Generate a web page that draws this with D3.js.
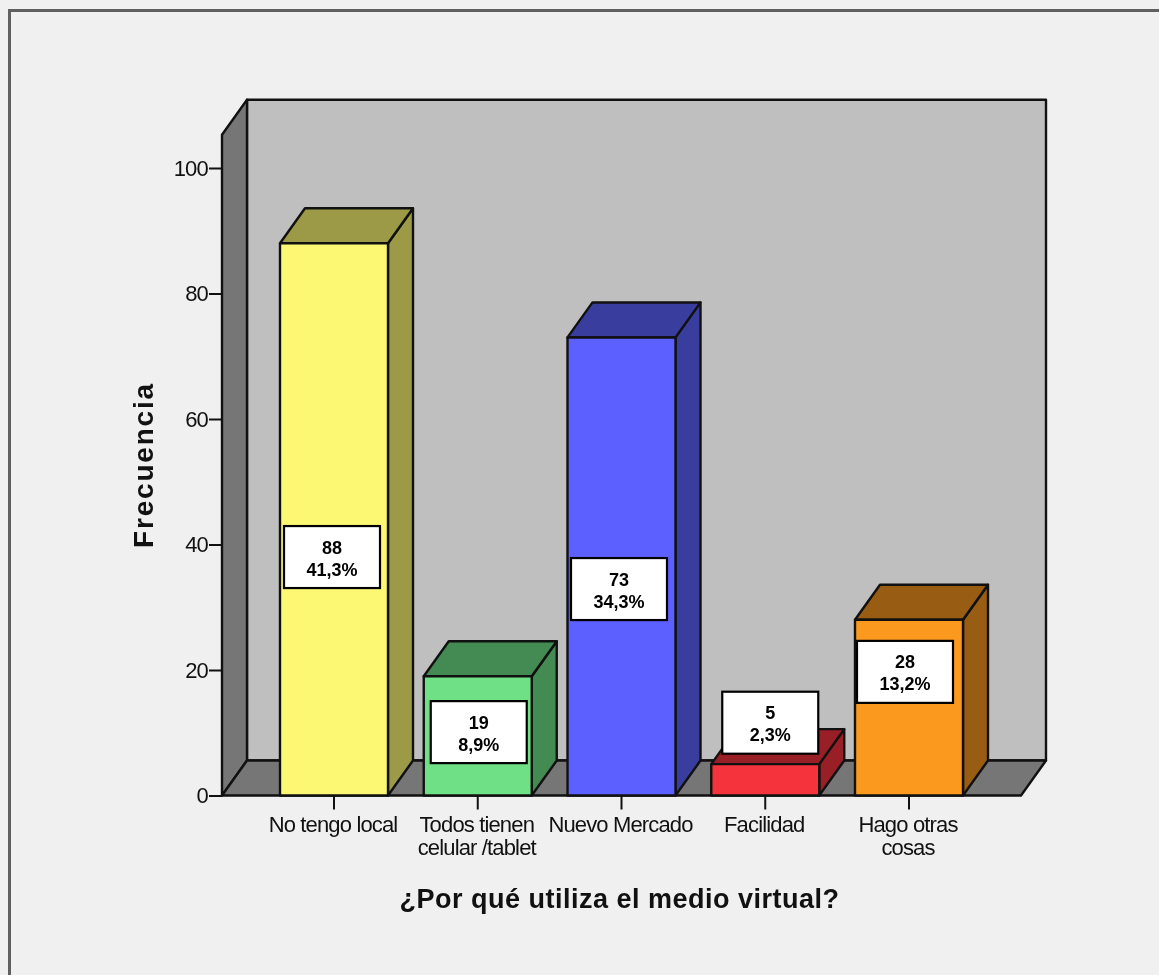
<!DOCTYPE html>
<html>
<head>
<meta charset="utf-8">
<script src="https://cdn.jsdelivr.net/npm/d3@7"></script>
<style>
html,body{margin:0;padding:0;background:#f0f0f0;overflow:hidden}
svg{display:block;filter:blur(.55px)}
text{font-family:"Liberation Sans",Arial,sans-serif;fill:#111}
</style>
</head>
<body>
<script>
const categories = ["No tengo local", "Todos tienen celular /tablet", "Nuevo Mercado", "Facilidad", "Hago otras cosas"];
const categoryLines = [["No tengo local"], ["Todos tienen", "celular /tablet"], ["Nuevo Mercado"], ["Facilidad"], ["Hago otras", "cosas"]];
const counts = [88, 19, 73, 5, 28];
const percents = ["41,3%", "8,9%", "34,3%", "2,3%", "13,2%"];
const labelCenters = [38, 10.1, 32.9, 11.6, 19.7];
const labelShift = [-2, 1, -2.5, 5, -4];
const frontColors = ["#fcf873", "#70e086", "#5b60ff", "#f5333c", "#fb991f"];
const sideColors = ["#9c9a47", "#438a53", "#393e9e", "#981f25", "#985c13"];
const yTicks = [0, 20, 40, 60, 80, 100];
const yTop = 105.3;

const W = 1159, H = 975;
const plotLeft = 222, plotRight = 1021, base = 795.5, unit = 6.275;
const dx = 25, dy = -35;
const ink = "#111";
const lineW = 2.4;

const svg = d3.select("body").append("svg").attr("width", W).attr("height", H);

const y = d3.scaleLinear().domain([0, yTop]).range([base, base - yTop * unit]);
const x = d3.scaleBand().domain(categories).range([plotLeft, plotRight])
  .paddingInner(0.2487).paddingOuter(0.4035);

// frame
svg.append("rect").attr("width", W).attr("height", H).attr("fill", "#f0f0f0");
svg.append("path").attr("d", `M9.5,${H}V10.5H${W}`).attr("fill", "none").attr("stroke", "#606060").attr("stroke-width", 3);

// 3D box
const plotTop = y(yTop);
const pts = a => a.map(p => p.join(",")).join(" ");
const wall = (points, fill) => svg.append("polygon").attr("points", pts(points))
  .attr("fill", fill).attr("stroke", ink).attr("stroke-width", lineW).attr("stroke-linejoin", "round");
wall([[plotLeft + dx, plotTop + dy], [plotRight + dx, plotTop + dy], [plotRight + dx, base + dy], [plotLeft + dx, base + dy]], "#bfbfbf");
wall([[plotLeft, plotTop], [plotLeft + dx, plotTop + dy], [plotLeft + dx, base + dy], [plotLeft, base]], "#767676");
wall([[plotLeft, base], [plotLeft + dx, base + dy], [plotRight + dx, base + dy], [plotRight, base]], "#767676");

// axes
const yAxis = d3.axisLeft(y).tickValues(yTicks).tickSize(13).tickPadding(1);
const gy = svg.append("g").attr("transform", `translate(${plotLeft},0)`).call(yAxis);
gy.select(".domain").remove();
gy.selectAll("line").attr("stroke", ink).attr("stroke-width", 2);
gy.selectAll("text").attr("font-size", 22).attr("letter-spacing", -0.8).attr("fill", "#111")
  .attr("font-family", '"Liberation Sans",Arial,sans-serif');

const xAxis = d3.axisBottom(x).tickSize(14).tickFormat("");
const gx = svg.append("g").attr("transform", `translate(0,${base})`).call(xAxis);
gx.select(".domain").remove();
gx.selectAll("line").attr("stroke", ink).attr("stroke-width", 2);

const xLabels = svg.append("g").selectAll("text").data(categories).join("text")
  .attr("text-anchor", "middle").attr("font-size", 22).attr("letter-spacing", -0.85)
  .attr("x", d => x(d) + x.bandwidth() / 2 - 1);
xLabels.selectAll("tspan").data((d, i) => categoryLines[i]).join("tspan")
  .attr("x", function () { return this.parentNode.getAttribute("x"); })
  .attr("y", (d, i) => base + 36.5 + i * 23)
  .text(d => d);

// bars
const bars = svg.append("g").selectAll("g").data(categories).join("g");
bars.each(function (d, i) {
  const g = d3.select(this), x0 = x(d), x1 = x0 + x.bandwidth(), yv = y(counts[i]);
  const poly = (p, f) => g.append("polygon").attr("points", pts(p)).attr("fill", f)
    .attr("stroke", ink).attr("stroke-width", lineW).attr("stroke-linejoin", "round");
  poly([[x1, yv], [x1 + dx, yv + dy], [x1 + dx, base + dy], [x1, base]], sideColors[i]);
  poly([[x0, yv], [x0 + dx, yv + dy], [x1 + dx, yv + dy], [x1, yv]], sideColors[i]);
  poly([[x0, yv], [x1, yv], [x1, base], [x0, base]], frontColors[i]);
});

// value labels
const boxW = 96, boxH = 62;
const labels = svg.append("g").selectAll("g").data(categories).join("g")
  .attr("transform", (d, i) => `translate(${x(d) + x.bandwidth() / 2 + labelShift[i]},${y(labelCenters[i])})`);
labels.append("rect").attr("x", -boxW / 2).attr("y", -boxH / 2).attr("width", boxW).attr("height", boxH)
  .attr("fill", "#fff").attr("stroke", "#000").attr("stroke-width", 2.2);
labels.append("text").attr("text-anchor", "middle").attr("y", -3.5).attr("font-size", 18).attr("font-weight", "bold")
  .style("fill", "#000").text((d, i) => counts[i]);
labels.append("text").attr("text-anchor", "middle").attr("y", 18.5).attr("font-size", 18).attr("font-weight", "bold")
  .style("fill", "#000").text((d, i) => percents[i]);

// axis titles
svg.append("text").attr("x", 619.5).attr("y", 908).attr("text-anchor", "middle")
  .attr("font-size", 27).attr("font-weight", "bold").attr("letter-spacing", 0.5)
  .text("¿Por qué utiliza el medio virtual?");
svg.append("text").attr("transform", "translate(153,465) rotate(-90)").attr("text-anchor", "middle")
  .attr("font-size", 28).attr("font-weight", "bold").attr("letter-spacing", 1.8)
  .text("Frecuencia");
</script>
</body>
</html>
